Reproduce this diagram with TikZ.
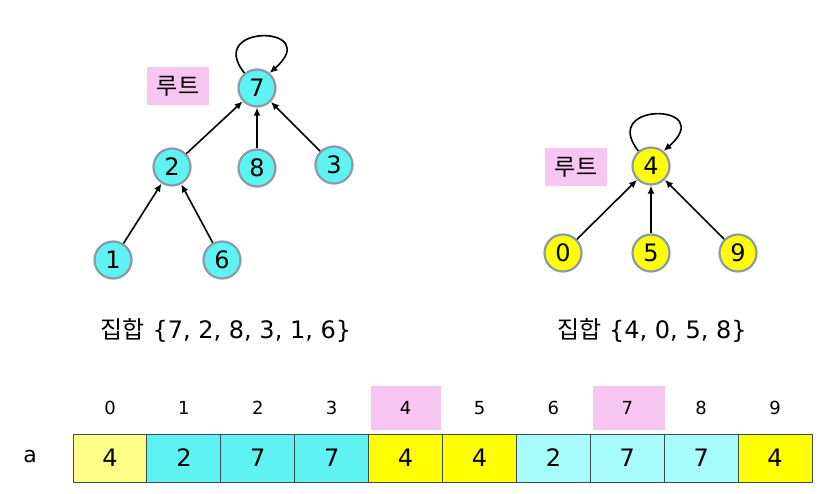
\documentclass[tikz,border=0pt]{standalone}
\usepackage{fontspec}
\setmainfont{DejaVu Sans}
\newfontfamily\kofont{Noto Sans CJK KR}
\usetikzlibrary{arrows.meta,positioning}
\definecolor{setcyan}{HTML}{5EF2F2}
\definecolor{setlcyan}{HTML}{A8FBFB}
\definecolor{setyellow}{HTML}{FFFF00}
\definecolor{setlyellow}{HTML}{FFFF88}
\definecolor{setpink}{HTML}{F8C6F3}
\definecolor{setgray}{HTML}{8A9AA6}
\definecolor{setline}{HTML}{3C4E50}

\begin{document}
\begin{tikzpicture}[
  x=1pt,y=-1pt,
  vert/.style={circle,draw=setgray,line width=2.2pt,minimum size=37pt,inner sep=0pt,font=\fontsize{24}{24}\selectfont},
  rootlbl/.style={fill=setpink,minimum width=62pt,minimum height=38pt,inner sep=0pt,font=\kofont\fontsize{23}{23}\selectfont},
  cell/.style={draw=setline,line width=1pt,minimum width=74pt,minimum height=48pt,inner sep=0pt,font=\fontsize{24}{24}\selectfont},
  idx/.style={minimum width=62pt,minimum height=42pt,inner sep=0pt,font=\fontsize{18}{18}\selectfont},
  arrow/.style={-{Latex[length=8pt,width=7pt]},draw=black,line width=1.6pt}
]
\useasboundingbox (0,0) rectangle (825,493);
% set {7,2,8,3,1,6}
\node[vert,fill=setcyan] (t7) at (257,88) {7};
\node[vert,fill=setcyan] (t2) at (172,167) {2};
\node[vert,fill=setcyan] (t8) at (257,168) {8};
\node[vert,fill=setcyan] (t3) at (334,165) {3};
\node[vert,fill=setcyan] (t1) at (113,260) {1};
\node[vert,fill=setcyan] (t6) at (222,260) {6};
\node[rootlbl] (root1) at (178,86) {루트};
\draw[arrow] (t2) -- (t7);
\draw[arrow] (t8) -- (t7);
\draw[arrow] (t3) -- (t7);
\draw[arrow] (t1) -- (t2);
\draw[arrow] (t6) -- (t2);
\draw[arrow] (t7.130) .. controls +(-40,-50) and +(55,-48) .. (t7.50);
\node[font=\fontsize{24}{24}\selectfont] (set1) at (226,330) {{\kofont 집합} \{7, 2, 8, 3, 1, 6\}};
% set {4,0,5,8}
\node[vert,fill=setyellow] (u4) at (651,166) {4};
\node[vert,fill=setyellow] (u0) at (563,253) {0};
\node[vert,fill=setyellow] (u5) at (651,253) {5};
\node[vert,fill=setyellow] (u9) at (738,253) {9};
\node[rootlbl] (root2) at (576,167) {루트};
\draw[arrow] (u0) -- (u4);
\draw[arrow] (u5) -- (u4);
\draw[arrow] (u9) -- (u4);
\draw[arrow] (u4.130) .. controls +(-40,-50) and +(55,-48) .. (u4.50);
\node[font=\fontsize{24}{24}\selectfont] (set2) at (652,330) {{\kofont 집합} \{4, 0, 5, 8\}};
% array a
\fill[setpink] (371,386) rectangle (441,430);
\fill[setpink] (593,386) rectangle (665,430);
\node[font=\fontsize{22}{22}\selectfont] (aname) at (30,456) {a};
\foreach \i/\v/\c in {0/4/setlyellow,1/2/setcyan,2/7/setcyan,3/7/setcyan,4/4/setyellow,
                      5/4/setyellow,6/2/setlcyan,7/7/setlcyan,8/7/setlcyan,9/4/setyellow}{
  \node[cell,fill=\c] (c\i) at (110+73.9*\i,458) {\v};
  \node[idx] (i\i) at (110+73.9*\i,408) {\i};
}
\end{tikzpicture}
\end{document}
